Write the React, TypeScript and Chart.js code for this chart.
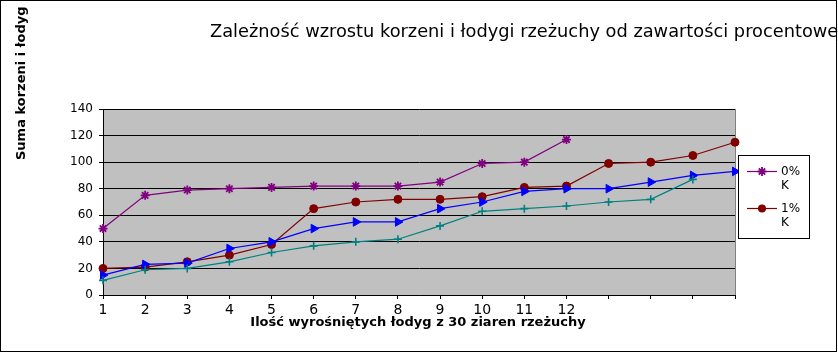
import React, { useEffect, useRef } from 'react';
import { Chart, registerables } from 'chart.js';

Chart.register(...registerables);

const categories = ['1', '2', '3', '4', '5', '6', '7', '8', '9', '10', '11', '12', '', '', '', ''];
const series0K = [50, 75, 79, 80, 81, 82, 82, 82, 85, 99, 100, 117, null, null, null, null];
const series1K = [20, 21, 25, 30, 38, 65, 70, 72, 72, 74, 81, 82, 99, 100, 105, 115];
const series2K = [15, 23, 24, 35, 40, 50, 55, 55, 65, 70, 78, 80, 80, 85, 90, 93];
const series3K = [11, 19, 20, 25, 32, 37, 40, 42, 52, 63, 65, 67, 70, 72, 87, null];
const seriesNames = ['0% K', '1% K', '2% K', '3% K'];
const legendLines = [['0%', 'K'], ['1%', 'K']];
const chartTitle = 'Zależność wzrostu korzeni i łodygi rzeżuchy od zawartości procentowej K';
const yTitle = 'Suma korzeni i łodyg';
const xTitle = 'Ilość wyrośniętych łodyg z 30 ziaren rzeżuchy';
const yMin = 0;
const yMax = 140;
const yStep = 20;

const FONT = '"DejaVu Sans", "Liberation Sans", sans-serif';

const decorPlugin = {
  id: 'decor',
  beforeDraw(chart: any) {
    const { ctx, chartArea: a } = chart;
    ctx.save();
    ctx.fillStyle = '#ffffff';
    ctx.fillRect(0, 0, chart.width, chart.height);
    ctx.fillStyle = '#c0c0c0';
    ctx.fillRect(a.left, a.top, a.right - a.left, a.bottom - a.top);
    ctx.restore();
  },
  beforeDatasetsDraw(chart: any) {
    const { ctx, chartArea: a } = chart;
    ctx.save();
    ctx.strokeStyle = '#808080';
    ctx.lineWidth = 1;
    ctx.beginPath();
    ctx.moveTo(Math.round(a.right) + 0.5, a.top);
    ctx.lineTo(Math.round(a.right) + 0.5, a.bottom);
    ctx.stroke();
    ctx.restore();
  },
  afterDraw(chart: any) {
    const { ctx } = chart;
    ctx.save();
    ctx.fillStyle = '#000';
    // title
    ctx.font = `17.8px ${FONT}`;
    ctx.textAlign = 'left';
    ctx.textBaseline = 'alphabetic';
    ctx.fillText(chartTitle, 210, 36.5);
    // x title
    ctx.font = `bold 13px ${FONT}`;
    ctx.textAlign = 'center';
    ctx.fillText(xTitle, 418, 326);
    // y title
    ctx.save();
    ctx.translate(25, 160);
    ctx.rotate(-Math.PI / 2);
    ctx.textAlign = 'left';
    ctx.fillText(yTitle, 0, 0);
    ctx.restore();
    // legend
    ctx.fillStyle = '#fff';
    ctx.fillRect(738.5, 155.5, 71, 83);
    ctx.strokeStyle = '#000';
    ctx.lineWidth = 1;
    ctx.strokeRect(738.5, 155.5, 71, 83);
    const ds = chart.data.datasets;
    for (let i = 0; i < legendLines.length; i++) {
      const y = 171.5 + i * 37;
      const d = ds[i];
      ctx.strokeStyle = d.borderColor;
      ctx.lineWidth = 1.2;
      ctx.beginPath();
      ctx.moveTo(747, y);
      ctx.lineTo(777, y);
      ctx.stroke();
      const cx = 762;
      if (d.pointStyle === 'star') {
        const r = 4.5;
        ctx.lineWidth = 1.8;
        ctx.beginPath();
        ctx.moveTo(cx, y - r); ctx.lineTo(cx, y + r);
        ctx.moveTo(cx - r, y); ctx.lineTo(cx + r, y);
        const q = r * Math.SQRT1_2;
        ctx.moveTo(cx - q, y - q); ctx.lineTo(cx + q, y + q);
        ctx.moveTo(cx - q, y + q); ctx.lineTo(cx + q, y - q);
        ctx.stroke();
      } else {
        ctx.fillStyle = d.backgroundColor;
        ctx.beginPath();
        ctx.arc(cx, y, 4, 0, Math.PI * 2);
        ctx.fill();
      }
      ctx.fillStyle = '#000';
      ctx.font = `12px ${FONT}`;
      ctx.textAlign = 'left';
      ctx.textBaseline = 'middle';
      ctx.fillText(legendLines[i][0], 781, y + 0.5);
      ctx.fillText(legendLines[i][1], 781, y + 14);
    }
    // frame
    ctx.strokeStyle = '#000';
    ctx.lineWidth = 1;
    ctx.strokeRect(0.5, 0.5, 836, 351);
    ctx.restore();
  },
};

export default function App() {
  const ref = useRef<HTMLCanvasElement | null>(null);
  useEffect(() => {
    document.body.style.margin = '0';
    const canvas = ref.current;
    if (!canvas) return;
    const chart = new Chart(canvas, {
      type: 'line',
      data: {
        labels: categories,
        datasets: [
          {
            label: seriesNames[0],
            data: series0K,
            borderColor: '#800080',
            backgroundColor: '#800080',
            pointStyle: 'star',
            pointRadius: 4.5,
            pointBorderWidth: 1.8,
            borderWidth: 1.2,
            order: 3,
          },
          {
            label: seriesNames[1],
            data: series1K,
            borderColor: '#800000',
            backgroundColor: '#800000',
            pointStyle: 'circle',
            pointRadius: 4,
            pointBorderWidth: 1,
            borderWidth: 1.2,
            order: 2,
          },
          {
            label: seriesNames[2],
            data: series2K,
            borderColor: '#0000ff',
            backgroundColor: '#0000ff',
            pointStyle: 'triangle',
            pointRotation: 90,
            pointRadius: 5,
            pointBorderWidth: 1,
            borderWidth: 1.2,
            order: 1,
          },
          {
            label: seriesNames[3],
            data: series3K,
            borderColor: '#008080',
            backgroundColor: '#008080',
            pointStyle: 'cross',
            pointRadius: 4,
            pointBorderWidth: 1.6,
            borderWidth: 1.2,
            order: 0,
          },
        ],
      },
      options: {
        responsive: false,
        animation: false,
        events: [],
        layout: { padding: { left: 40, top: 109, right: 103, bottom: 28 } },
        plugins: {
          legend: { display: false },
          title: { display: false },
          tooltip: { enabled: false },
        },
        scales: {
          x: {
            offset: false,
            afterFit: (s: any) => { s.height = 30; },
            grid: {
              drawOnChartArea: false,
              drawTicks: true,
              tickLength: 4,
              color: '#000',
            },
            border: { color: '#000', width: 1 },
            ticks: {
              autoSkip: false,
              maxRotation: 0,
              color: '#000',
              padding: 3,
              font: { family: FONT, size: 14 },
            },
          },
          y: {
            min: yMin,
            max: yMax,
            afterFit: (s: any) => { s.width = 63; },
            grid: { color: '#000', tickLength: 4, drawTicks: true },
            border: { color: '#000', width: 1 },
            ticks: {
              stepSize: yStep,
              color: '#000',
              padding: 6,
              font: { family: FONT, size: 12 },
            },
          },
        },
      },
      plugins: [decorPlugin],
    });
    return () => chart.destroy();
  }, []);
  return (
    <div style={{ width: 838, height: 353 }}>
      <canvas ref={ref} width={838} height={353} style={{ display: 'block' }} />
    </div>
  );
}
